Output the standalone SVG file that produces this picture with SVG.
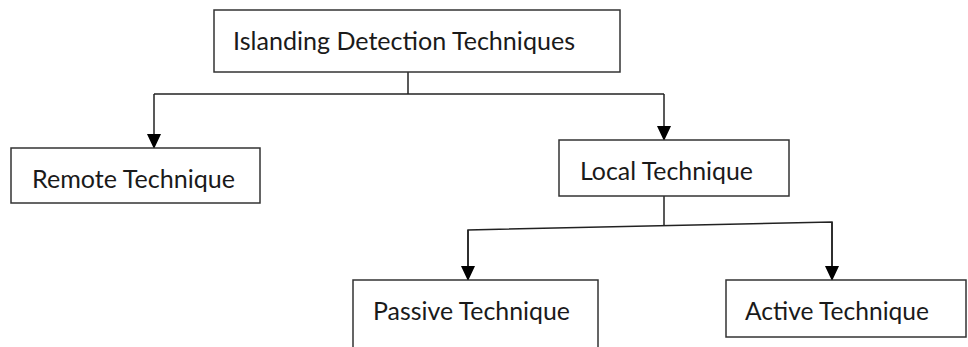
<svg xmlns="http://www.w3.org/2000/svg" width="968" height="347" viewBox="0 0 968 347">
<defs>
<marker id="arr" markerWidth="14" markerHeight="15" refX="14" refY="7" orient="auto" markerUnits="userSpaceOnUse">
<path d="M0,0 L15,7 L0,14 Z" fill="#000"/>
</marker>
<style>
.box{fill:#fff;stroke:#333;stroke-width:1.5}
.lbl{font-family:Lato,"Liberation Sans",sans-serif;font-size:25px;fill:#1a1a1a}
.con{fill:none;stroke:#222;stroke-width:1.5}
</style>
</defs>
<rect width="968" height="347" fill="#fff"/>
<g id="connectors">
<path class="con" d="M408,72 V94"/>
<path class="con" d="M154,94 H664"/>
<path class="con" d="M154,94 V148" marker-end="url(#arr)"/>
<path class="con" d="M664,94 V140" marker-end="url(#arr)"/>
<path class="con" d="M664,196 V226"/>
<path class="con" d="M468,280 V230 L832,222 V280"/>
<path class="con" d="M468,230 V280" marker-end="url(#arr)"/>
<path class="con" d="M832,222 V280" marker-end="url(#arr)"/>
</g>
<g id="root">
<rect class="box" x="214" y="10" width="406" height="62"/>
<text class="lbl" x="233" y="50" textLength="342" lengthAdjust="spacingAndGlyphs">Islanding Detection Techniques</text>
</g>
<g id="remote">
<rect class="box" x="11" y="148" width="249" height="55"/>
<text class="lbl" x="32" y="188" textLength="203" lengthAdjust="spacingAndGlyphs">Remote Technique</text>
</g>
<g id="local">
<rect class="box" x="559" y="140" width="230" height="56"/>
<text class="lbl" x="580" y="180" textLength="173" lengthAdjust="spacingAndGlyphs">Local Technique</text>
</g>
<g id="passive">
<rect class="box" x="353" y="280" width="245" height="80"/>
<text class="lbl" x="373" y="320" textLength="197" lengthAdjust="spacingAndGlyphs">Passive Technique</text>
</g>
<g id="active">
<rect class="box" x="726" y="280" width="240" height="57"/>
<text class="lbl" x="745" y="320" textLength="184" lengthAdjust="spacingAndGlyphs">Active Technique</text>
</g>
</svg>
